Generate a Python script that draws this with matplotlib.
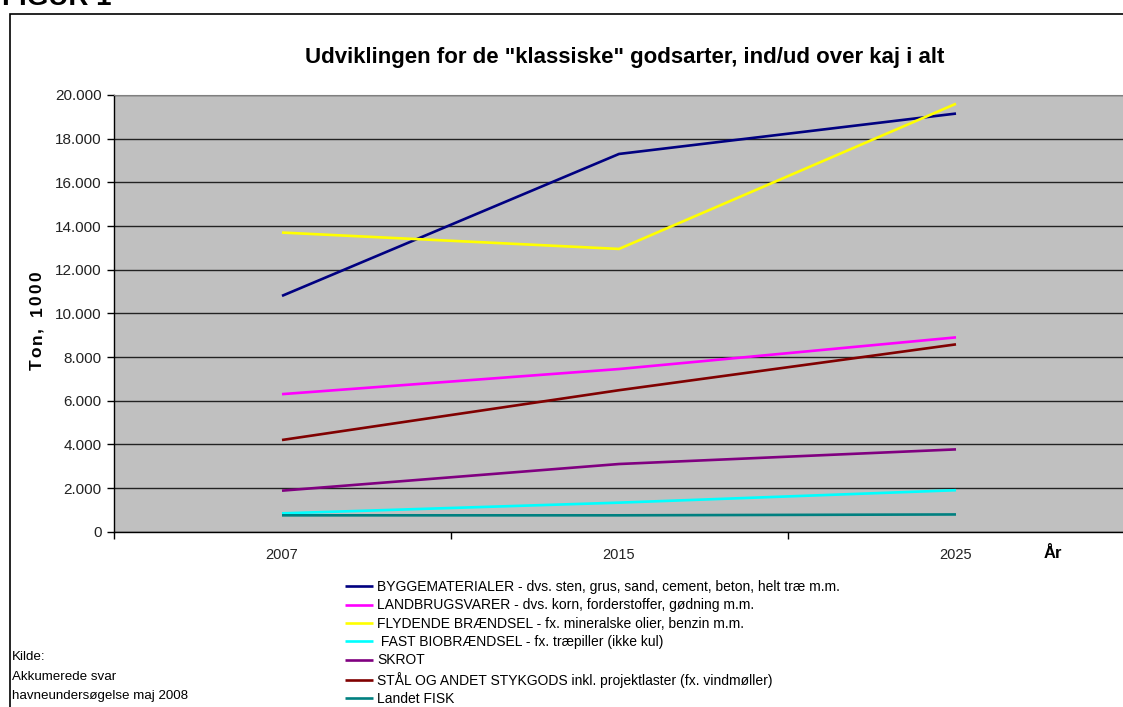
import matplotlib
matplotlib.use('Agg')
import matplotlib.pyplot as plt
from matplotlib.patches import Rectangle

plt.rcParams['font.family'] = ['Liberation Sans', 'DejaVu Sans']

# data (1000 ton)
years = ['2007', '2015', '2025']
bygge = [10800, 17300, 19150]
landbrug = [6300, 7450, 8900]
flydende = [13700, 12950, 19600]
fast_bio = [840, 1330, 1900]
skrot = [1880, 3100, 3770]
staal = [4200, 6480, 8580]
fisk = [750, 750, 790]

labels = ['BYGGEMATERIALER - dvs. sten, grus, sand, cement, beton, helt træ m.m.',
          'LANDBRUGSVARER - dvs. korn, forderstoffer, gødning m.m.',
          'FLYDENDE BRÆNDSEL - fx. mineralske olier, benzin m.m.',
          ' FAST BIOBRÆNDSEL - fx. træpiller (ikke kul)',
          'SKROT',
          'STÅL OG ANDET STYKGODS inkl. projektlaster (fx. vindmøller)',
          'Landet FISK']
series = [bygge, landbrug, flydende, fast_bio, skrot, staal, fisk]
colors = ['#000080', '#FF00FF', '#FFFF00', '#00FFFF', '#800080', '#800000', '#008080']

W, H = 1123, 707
fig = plt.figure(figsize=(W / 100, H / 100), dpi=100)

# chart frame
fig.patches.append(Rectangle((10 / W, -0.1), 1.2, 1 - 14 / H + 0.1, transform=fig.transFigure,
                             fill=False, edgecolor='black', linewidth=1.2))
fig.text(2 / W, 1 - 5 / H, 'FIGUR 1', fontsize=20, fontweight='bold', va='baseline')

ax = fig.add_axes([113.5 / W, 1 - 531.7 / H, 1011 / W, (531.7 - 95) / H])
ax.set_facecolor('#C0C0C0')

x = list(range(len(years)))
for vals, c, lab in zip(series, colors, labels):
    ax.plot(x, vals, color=c, linewidth=1.9, label=lab, solid_capstyle='butt')

ax.set_xlim(-0.5, 2.5)
ax.set_ylim(0, 20000)
ax.set_yticks(range(0, 20001, 2000))
ax.set_yticklabels(['0' if v == 0 else f'{v // 1000}.000' for v in range(0, 20001, 2000)],
                   fontsize=11, color='#222222')
ax.yaxis.grid(True, color='#222222', linewidth=1.0)
ax.set_axisbelow(True)

ax.set_xticks([-0.5, 0.5, 1.5, 2.5])
ax.set_xticklabels([])
ax.set_xticks(x, minor=True)
ax.set_xticklabels(years, minor=True, fontsize=10.5, color='#222222')
ax.tick_params(axis='x', which='minor', length=0, pad=12)
ax.tick_params(axis='both', which='major', length=5, width=1, color='black', direction='out')

for s in ['left', 'bottom']:
    ax.spines[s].set_color('black')
    ax.spines[s].set_linewidth(1.0)
ax.spines['top'].set_color('#808080')
ax.spines['right'].set_visible(False)

fig.text(625 / W, 1 - 57 / H, 'Udviklingen for de "klassiske" godsarter, ind/ud over kaj i alt',
         fontsize=16, fontweight='bold', ha='center', va='center')

# y label with wide letter spacing, placed char by char
renderer = fig.canvas.get_renderer()
ylab = 'Ton, 1000'
ypos = 370
for ch in ylab:
    if ch == ' ':
        ypos -= 8
        continue
    t = fig.text(37 / W, 1 - ypos / H, ch, fontsize=12.5, fontweight='bold', rotation=90,
                 ha='center', va='bottom')
    ypos -= t.get_window_extent(renderer).height + 2.2

fig.text(1053 / W, 1 - 553 / H, 'År', fontsize=12, fontweight='bold', ha='center', va='center')

fig.legend(loc='upper left', bbox_to_anchor=(345 / W, 1 - 580 / H), frameon=False,
           fontsize=10, handlelength=2.0, handletextpad=0.3, labelspacing=0.315,
           borderpad=0, borderaxespad=0)

fig.text(12 / W, 1 - 657 / H, 'Kilde:', fontsize=9.6, va='center')
fig.text(12 / W, 1 - 677 / H, 'Akkumerede svar', fontsize=9.6, va='center')
fig.text(12 / W, 1 - 696 / H, 'havneundersøgelse maj 2008', fontsize=9.6, va='center')

fig.savefig('out.png', dpi=100)
